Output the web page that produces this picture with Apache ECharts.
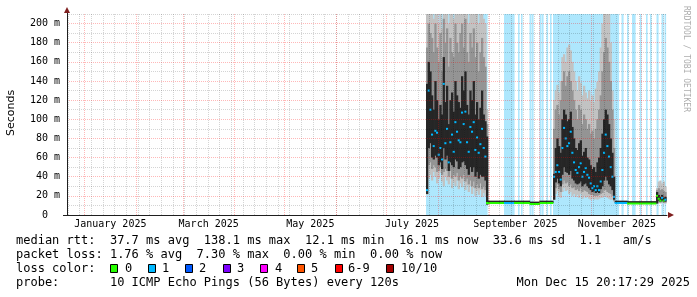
<!DOCTYPE html>
<html><head><meta charset="utf-8">
<script src="https://cdn.jsdelivr.net/npm/echarts@6/dist/echarts.min.js"></script>
<style>html,body{margin:0;padding:0;background:#fff;} #c{width:697px;height:297px;}</style>
</head><body><div id="c"></div>
<script>
// ---------- time helpers (axis unit = days since 2024-12-21 12:00) ----------
const T0 = Date.UTC(2024, 11, 21, 12);
function day(y, m, d, h) { return (Date.UTC(y, m - 1, d, h || 0) - T0) / 864e5; }
const X_MAX = 360;
const Y_MAX = 210;
const STEP = 1; // one sample per day

// ---------- tick labels ----------
const xTickLabels = ['January 2025', 'March 2025', 'May 2025', 'July 2025', 'September 2025', 'November 2025'];
const xTickMonths = [1, 3, 5, 7, 9, 11];
const yTickValues = [0, 20, 40, 60, 80, 100, 120, 140, 160, 180, 200];
const yTickLabels = ['0  ', '20 m', '40 m', '60 m', '80 m', '100 m', '120 m', '140 m', '160 m', '180 m', '200 m'];

// ---------- loss colours ----------
const lossLabels = ['0', '1', '2', '3', '4', '5', '6-9', '10/10'];
const lossColors = ['#26ff00', '#00b8ff', '#0059ff', '#7e00ff', '#ff00ff', '#ff5500', '#ff0000', '#a10000'];

// ---------- loss background bands (days) ----------
const lossStart = [215.4, 262.2, 270.6, 272.4, 277.5, 279, 283.5, 285, 287.7, 289.8, 291.6, 332.7, 336, 339, 343.8, 347.4, 349.8, 353.7, 356.7, 358.5];
const lossEnd   = [252, 268.2, 271.2, 273, 278.4, 279.6, 284.4, 285.6, 288.3, 290.4, 330.9, 333.6, 336.6, 340.8, 344.4, 348, 350.4, 354.6, 357.6, 359.1];

// ---------- smoke segment A (July - August) ----------
const aStart = 215.4;
const aMedian = [26,130,110,84,72,88,86,63,70,58,137,75,90,55,76,84,66,97,87,78,76,107,95,108,76,66,92,87,97,68,81,65,74,90,70,61,12.5];
const aMin = [21,38,42,36,45,40,33,38,44,35,30,40,36,32,38,28,34,30,36,27,33,29,35,26,31,24,30,22,28,20,25,21,26,19,23,20,11];
const aLo2 = [22,52,55,48,52,50,45,46,50,42,45,48,46,40,46,38,42,40,44,36,40,38,42,35,38,32,36,30,35,28,32,28,33,27,30,26,11];
const aLo3 = [22,70,75,60,58,62,60,52,55,48,70,58,62,46,55,52,50,58,56,48,50,55,56,52,48,42,50,45,50,40,45,38,42,40,40,36,11];
const aHi3 = [137,160,150,125,110,140,120,100,115,105,165,118,135,95,120,128,108,140,125,118,112,145,130,150,115,105,130,120,140,105,118,100,112,130,105,98,82];
const aHi2 = [175,200,190,185,170,200,175,160,190,150,205,180,195,155,185,170,165,200,180,170,190,200,175,205,170,160,190,175,195,165,180,150,170,185,165,155,95];
const aMax = [215,215,215,215,205,215,215,200,215,195,215,215,215,200,215,215,205,215,215,210,215,215,215,215,215,200,215,215,215,210,215,200,215,215,205,200,110];
const aLoss = [1,1,1,1,1,1,1,1,1,1,1,1,1,1,1,1,1,1,1,1,1,1,1,1,1,1,1,1,1,1,1,1,1,1,1,1,0];

// ---------- smoke segment C (October - November) ----------
const cStart = 291.6;
const cMedian = [40,45,52,45,37,70,91,80,72,75,87,65,55,47,44,50,54,40,45,49,42,39,33,28,30,26,30,26,35,47,65,84,72,61,50,40,19];
const cMin = [16,22,25,20,18,24,28,25,26,22,24,20,22,19,21,18,22,17,20,18,19,17,16,17,16,17,16,17,18,18,20,19,18,17,16,16,14];
const cLo2 = [16,28,32,27,24,32,36,33,34,30,32,28,29,26,27,25,28,24,26,25,24,22,21,21,20,20,20,21,22,23,26,26,24,23,22,20,15];
const cLo3 = [16,34,38,33,30,42,50,45,44,42,46,38,36,33,32,33,35,30,32,33,30,28,26,24,25,23,24,23,27,30,36,40,36,32,30,26,16];
const cHi3 = [43,70,80,72,65,100,110,105,98,100,108,92,80,70,68,75,78,62,66,70,60,58,52,48,50,45,55,60,70,85,100,110,105,95,80,65,40];
const cHi2 = [90,110,115,105,120,140,150,135,145,150,140,130,120,110,100,115,110,95,105,100,90,95,85,88,80,90,100,110,125,150,170,185,175,160,140,110,70];
const cMax = [120,130,136,128,140,165,168,160,175,178,172,160,150,140,130,145,138,125,135,128,122,130,120,125,118,132,139,150,175,200,215,215,215,210,180,130,100];
const cLoss = [1,1,1,1,1,1,1,1,1,1,1,1,1,1,1,1,1,1,1,1,1,1,1,1,1,1,1,1,1,1,1,1,1,1,1,1,1];

// ---------- smoke segment E (December) ----------
const eStart = 353.4;
const eMedian = [20,17,15,18,15,16];
const eMin = [12,13,12,13,12,12];
const eLo2 = [12,14,13,14,13,13];
const eLo3 = [12,15,14,15,14,14];
const eHi3 = [24,21,19,21,18,19];
const eHi2 = [26,28,26,27,25,24];
const eMax = [28,35,36,33,35,30];
const eLoss = [0,0,0,1,0,1];

// ---------- flat periods ----------
const flatStart = [252, 262.2, 268.2, 277.5, 283.5, 328.6, 336];
const flatEnd   = [262.2, 268.2, 277.5, 283.5, 291.6, 336, 353.4];
const flatMed   = [12.5, 12.5, 12.5, 11.5, 12.5, 12.5, 12.0];
const flatHi    = [15, 15, 15, 14, 15, 15, 14.5];
const flatLoss  = [0, 1, 0, 0, 0, 1, 0];

// ---------- build series data ----------
const lossBg = lossStart.map((s, i) => [s, lossEnd[i], 0, Y_MAX]);
const outer = [], mid = [], inner = [], medians = [];
function addSegment(start, med, mn, lo2, lo3, hi3, hi2, mx, loss) {
  for (let i = 0; i < med.length; i++) {
    const x0 = start + i * STEP, x1 = x0 + STEP;
    outer.push([x0, x1, mn[i], mx[i]]);
    mid.push([x0, x1, lo2[i], hi2[i]]);
    inner.push([x0, x1, lo3[i], hi3[i]]);
    medians.push([x0, x1, med[i], loss[i]]);
  }
}
addSegment(aStart, aMedian, aMin, aLo2, aLo3, aHi3, aHi2, aMax, aLoss);
addSegment(cStart, cMedian, cMin, cLo2, cLo3, cHi3, cHi2, cMax, cLoss);
addSegment(eStart, eMedian, eMin, eLo2, eLo3, eHi3, eHi2, eMax, eLoss);
for (let i = 0; i < flatStart.length; i++) {
  inner.push([flatStart[i], flatEnd[i], flatMed[i], flatHi[i]]);
  medians.push([flatStart[i], flatEnd[i], flatMed[i], flatLoss[i]]);
}

// ---------- ticks ----------
const monthStarts = [];
for (let m = 1; m <= 12; m++) monthStarts.push(day(2025, m, 1));
const weekTicks = [];
for (let t = day(2024, 12, 22); t < X_MAX; t += 7) weekTicks.push(t);
const labelDays = xTickMonths.map(m => day(2025, m, 16, 12));
const yMinorTicks = [];
for (let v = 10; v <= Y_MAX; v += 20) yMinorTicks.push(v);

function bandRender(color) {
  return function (params, api) {
    const x0 = api.value(0), x1 = api.value(1);
    const lo = Math.max(api.value(2), 0), hi = Math.min(api.value(3), Y_MAX);
    const a = api.coord([x0, lo]), b = api.coord([x1, hi]);
    return { type: 'rect', shape: { x: a[0], y: b[1], width: b[0] - a[0] + 0.6, height: Math.max(a[1] - b[1], 1) }, style: { fill: color } };
  };
}
function medianRender(params, api) {
  const x0 = api.value(0), x1 = api.value(1), m = api.value(2), loss = api.value(3);
  const a = api.coord([x0, m]), b = api.coord([x1, m]);
  return { type: 'rect', shape: { x: a[0], y: a[1] - 1, width: b[0] - a[0] + 0.4, height: 2 }, style: { fill: lossColors[loss] } };
}

const MONO = '"DejaVu Sans Mono", monospace';
const minorGrid = { show: true, lineStyle: { color: 'rgba(0,0,0,0.17)', width: 1, type: [1, 1] } };
const majorGrid = { show: true, lineStyle: { color: 'rgba(255,0,0,0.28)', width: 1, type: [1, 1] } };

const chart = echarts.init(document.getElementById('c'), null, { renderer: 'canvas' });
const legendY = [241, 255, 269, 283];
const boxX = [110, 148, 185, 223, 260, 297, 335, 386];
const boxLabelX = [125, 162, 199, 237, 275, 311, 348, 401];
const graphics = [
  { type: 'text', x: 11, y: 113, rotation: Math.PI / 2, style: { text: 'Seconds', font: '11px "DejaVu Sans"', fill: '#000', align: 'center', verticalAlign: 'middle' } },
  { type: 'text', x: 686, y: 59, rotation: -Math.PI / 2, style: { text: 'RRDTOOL / TOBI OETIKER', font: '8px ' + MONO, fill: '#adadad', align: 'center', verticalAlign: 'middle' } },
  { type: 'polygon', z: 20, shape: { points: [[64, 13], [70, 13], [67, 7]] }, style: { fill: '#7f1f1f' } },
  { type: 'polygon', z: 20, shape: { points: [[668, 212], [668, 218], [674, 215]] }, style: { fill: '#7f1f1f' } },
  { type: 'line', z: 20, shape: { x1: 63, y1: 215.5, x2: 67, y2: 215.5 }, style: { stroke: '#1f1f1f', lineWidth: 1 } },
  { type: 'line', z: 20, shape: { x1: 67.5, y1: 13, x2: 67.5, y2: 15 }, style: { stroke: '#1f1f1f', lineWidth: 1 } },
  { type: 'text', x: 16, y: legendY[0], style: { text: 'median rtt:  37.7 ms avg  138.1 ms max  12.1 ms min  16.1 ms now  33.6 ms sd  1.1   am/s', font: '12px ' + MONO, fill: '#000', verticalAlign: 'middle' } },
  { type: 'text', x: 16, y: legendY[1], style: { text: 'packet loss: 1.76 % avg  7.30 % max  0.00 % min  0.00 % now', font: '12px ' + MONO, fill: '#000', verticalAlign: 'middle' } },
  { type: 'text', x: 16, y: legendY[2], style: { text: 'loss color:', font: '12px ' + MONO, fill: '#000', verticalAlign: 'middle' } },
  { type: 'text', x: 16, y: legendY[3], style: { text: 'probe:       10 ICMP Echo Pings (56 Bytes) every 120s', font: '12px ' + MONO, fill: '#000', verticalAlign: 'middle' } },
  { type: 'text', x: 690, y: legendY[3], style: { text: 'Mon Dec 15 20:17:29 2025', font: '12px ' + MONO, fill: '#000', align: 'right', verticalAlign: 'middle' } }
];
lossLabels.forEach((lab, i) => {
  graphics.push({ type: 'rect', shape: { x: boxX[i] + 0.5, y: legendY[2] - 4.5, width: 7, height: 8 }, style: { fill: lossColors[i], stroke: '#000', lineWidth: 1 } });
  graphics.push({ type: 'text', x: boxLabelX[i], y: legendY[2], style: { text: lab, font: '12px ' + MONO, fill: '#000', verticalAlign: 'middle' } });
});

chart.setOption({
  animation: false,
  backgroundColor: '#ffffff',
  grid: { left: 67, right: 30, top: 14, bottom: 82, containLabel: false, outerBoundsMode: 'none' },
  xAxis: [
    {
      type: 'value', min: 0, max: X_MAX, position: 'bottom', z: 7,
      axisLine: { show: true, lineStyle: { color: '#1f1f1f', width: 1 } },
      axisTick: { show: false, customValues: monthStarts },
      splitLine: majorGrid,
      axisLabel: {
        show: true, customValues: labelDays, margin: 4, fontFamily: 'DejaVu Sans Mono', fontSize: 10, color: '#000',
        formatter: function (v) {
          for (let i = 0; i < labelDays.length; i++) if (Math.abs(labelDays[i] - v) < 0.01) return xTickLabels[i];
          return '';
        }
      }
    },
    {
      type: 'value', min: 0, max: X_MAX, position: 'top', z: 6,
      axisLine: { show: false }, axisLabel: { show: false },
      axisTick: { show: false, customValues: weekTicks },
      splitLine: minorGrid
    }
  ],
  yAxis: [
    {
      type: 'value', min: 0, max: Y_MAX, position: 'left', z: 7,
      axisLine: { show: true, lineStyle: { color: '#1f1f1f', width: 1 } },
      axisTick: { show: false, customValues: yTickValues },
      splitLine: majorGrid,
      axisLabel: {
        show: true, customValues: yTickValues, margin: 7, fontFamily: 'DejaVu Sans Mono', fontSize: 10, color: '#000',
        formatter: function (v) { const i = yTickValues.indexOf(Math.round(v)); return i >= 0 ? yTickLabels[i] : ''; }
      }
    },
    {
      type: 'value', min: 0, max: Y_MAX, position: 'right', z: 6,
      axisLine: { show: false }, axisLabel: { show: false },
      axisTick: { show: false, customValues: yMinorTicks },
      splitLine: minorGrid
    }
  ],
  series: [
    { type: 'custom', name: 'loss background', z: 1, clip: true, silent: true, renderItem: bandRender('#aee7fd'), encode: { x: [0, 1], y: [2, 3] }, data: lossBg },
    { type: 'custom', name: 'smoke outer', z: 2, clip: true, silent: true, renderItem: bandRender('#c2c2c2'), encode: { x: [0, 1], y: [2, 3] }, data: outer },
    { type: 'custom', name: 'smoke mid', z: 3, clip: true, silent: true, renderItem: bandRender('#949494'), encode: { x: [0, 1], y: [2, 3] }, data: mid },
    { type: 'custom', name: 'smoke inner', z: 4, clip: true, silent: true, renderItem: bandRender('#262626'), encode: { x: [0, 1], y: [2, 3] }, data: inner },
    { type: 'custom', name: 'median rtt', z: 5, clip: true, silent: true, renderItem: medianRender, encode: { x: [0, 1], y: 2 }, data: medians }
  ],
  graphic: graphics
});
</script></body></html>
